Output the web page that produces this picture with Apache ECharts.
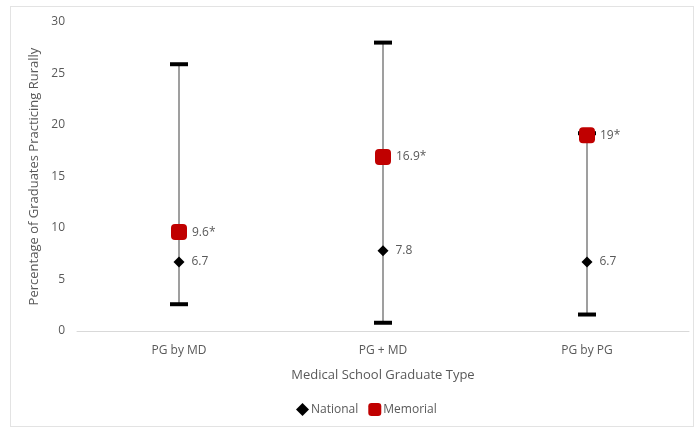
<!DOCTYPE html>
<html><head><meta charset="utf-8">
<script src="https://cdn.jsdelivr.net/npm/echarts@6/dist/echarts.min.js"></script>
<style>html,body{margin:0;padding:0;background:#fff}#c{width:696px;height:431px}
#frame{position:absolute;left:10px;top:6px;width:684px;height:421px;border:1px solid #e3e3e3;box-sizing:border-box;pointer-events:none}</style>
</head><body><div id="c"></div><div id="frame"></div>
<script>
const categories = ['PG by MD', 'PG + MD', 'PG by PG'];
const nationalValues = [6.7, 7.8, 6.7];
const memorialValues = [9.6, 16.9, 19];
const memorialLabels = ['9.6*', '16.9*', '19*'];
const nationalLabels = ['6.7', '7.8', '6.7'];
const ciLow = [2.6, 0.8, 1.6];
const ciHigh = [25.9, 28.0, 19.2];
const yTicks = [0, 5, 10, 15, 20, 25, 30];

const chart = echarts.init(document.getElementById('c'));
const txt = '#595959';
chart.setOption({
  animation: false,
  textStyle: {fontFamily: 'Open Sans, Noto Sans, sans-serif'},
  grid: {left: 77, right: 7, top: 22, bottom: 100},
  xAxis: {
    type: 'category', data: categories, boundaryGap: true,
    axisLine: {lineStyle: {color: '#d9d9d9'}}, axisTick: {show: false},
    axisLabel: {color: txt, fontSize: 12, margin: 14},
    name: 'Medical School Graduate Type', nameLocation: 'middle', nameGap: 38,
    nameTextStyle: {color: txt, fontSize: 13}
  },
  yAxis: {
    type: 'value', min: yTicks[0], max: yTicks[yTicks.length - 1], interval: 5,
    axisLine: {show: false}, axisTick: {show: false}, splitLine: {show: false},
    axisLabel: {color: txt, fontSize: 12, margin: 12},
    name: 'Percentage of Graduates Practicing Rurally', nameLocation: 'middle', nameGap: 29,
    nameTextStyle: {color: txt, fontSize: 13}
  },
  legend: {
    bottom: 10, left: 291, itemGap: 10, itemWidth: 13, itemHeight: 13,
    textStyle: {color: txt, fontSize: 12, padding: [0, 0, 0, -3]},
    data: [{name: 'National', icon: 'diamond', itemStyle: {opacity: 1}}, {name: 'Memorial', icon: 'roundRect', itemStyle: {opacity: 1}}]
  },
  series: [
    {
      type: 'custom', name: 'CI', z: 1,
      data: categories.map((c, i) => [i, ciLow[i], ciHigh[i]]),
      renderItem: function (params, api) {
        const lo = api.coord([api.value(0), api.value(1)]);
        const hi = api.coord([api.value(0), api.value(2)]);
        const hw = 9;
        return {type: 'group', children: [
          {type: 'line', shape: {x1: lo[0], y1: lo[1], x2: hi[0], y2: hi[1]}, style: {stroke: '#7f7f7f', lineWidth: 1.5}},
          {type: 'line', shape: {x1: lo[0] - hw, y1: lo[1], x2: lo[0] + hw, y2: lo[1]}, style: {stroke: '#000', lineWidth: 4}},
          {type: 'line', shape: {x1: hi[0] - hw, y1: hi[1], x2: hi[0] + hw, y2: hi[1]}, style: {stroke: '#000', lineWidth: 4}}
        ]};
      }
    },
    {
      type: 'scatter', name: 'National', z: 3, symbol: 'diamond', symbolSize: 11,
      itemStyle: {color: '#000', opacity: 1},
      data: nationalValues.map((v, i) => ({value: [i, v], label: {formatter: nationalLabels[i]}})),
      label: {show: true, position: 'right', distance: 7, color: txt, fontSize: 12}
    },
    {
      type: 'scatter', name: 'Memorial', z: 4, symbol: 'roundRect', symbolSize: 16,
      itemStyle: {color: '#C00000', opacity: 1},
      data: memorialValues.map((v, i) => ({value: [i, v], label: {formatter: memorialLabels[i]}})),
      label: {show: true, position: 'right', distance: 5, color: txt, fontSize: 12}
    }
  ]
});
</script></body></html>
